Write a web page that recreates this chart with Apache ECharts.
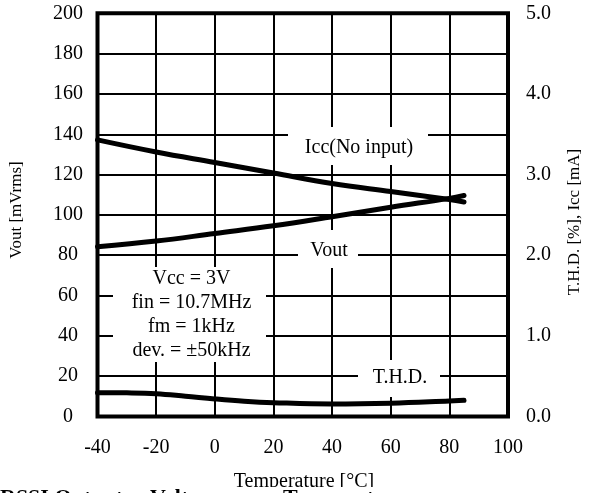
<!DOCTYPE html>
<html>
<head>
<meta charset="utf-8">
<script src="https://cdn.jsdelivr.net/npm/echarts@6/dist/echarts.min.js"></script>
<style>
html,body{margin:0;padding:0;background:#fff;}
#chart{width:591px;height:493px;}
</style>
</head>
<body>
<div id="chart"></div>
<script>
// Data
const tempsMain = [-40, -20, 0, 20, 40, 60, 80, 85];
const voutMv = [84.2, 87.0, 90.8, 94.6, 99.1, 103.8, 108.2, 109.6];
const iccMa = [3.43, 3.28, 3.15, 3.02, 2.89, 2.79, 2.69, 2.66];
const tempsThd = [-40, -30, -20, -10, 0, 10, 20, 40, 60, 80, 85];
const thdPct = [0.295, 0.293, 0.283, 0.252, 0.218, 0.19, 0.172, 0.155, 0.165, 0.192, 0.2];
const xTicks = [-40, -20, 0, 20, 40, 60, 80, 100];
const leftTicks = [0, 20, 40, 60, 80, 100, 120, 140, 160, 180, 200];
const rightTicks = ['0.0', '1.0', '2.0', '3.0', '4.0', '5.0'];
const paramLines = ['Vcc = 3V', 'fin = 10.7MHz', 'fm = 1kHz', 'dev. = \u00B150kHz'];

const FONT = '"Liberation Serif", "Times New Roman", serif';
const zip = (xs, ys) => xs.map((x, i) => [x, ys[i]]);

const chart = echarts.init(document.getElementById('chart'), null, {renderer: 'canvas'});

const lineStyle = {color: '#000', width: 5, cap: 'round', join: 'round'};

function box(x, y, w, h) {
  return {type: 'rect', z: 20, shape: {x: x, y: y, width: w, height: h}, style: {fill: '#fff'}, silent: true};
}
function txt(s, x, y, size, rot, weight, vAlign, hAlign) {
  return {type: 'text', z: 31, silent: true, x: x, y: y, rotation: rot || 0,
    style: {text: s, x: 0, y: 0, font: (weight ? weight + ' ' : '') + size + 'px ' + FONT, fill: '#000',
      textAlign: hAlign || 'center', textVerticalAlign: vAlign || 'middle'}};
}

const graphics = [
  box(288, 127, 140, 38), txt('Icc(No input)', 359, 147.5, 20),
  box(298, 230, 60, 38), txt('Vout', 329, 251, 20),
  box(113, 267, 153, 95),
  box(358, 360, 82, 37), txt('T.H.D.', 400, 378, 20),
  txt('Vout [mVrms]', 17, 210, 17, Math.PI / 2),
  txt('T.H.D. [%], Icc [mA]', 575, 222, 17, Math.PI / 2),
  txt('Temperature [\u00B0C]', 304, 482, 20),
  {type: 'rect', z: 40, shape: {x: 0, y: 487, width: 591, height: 6}, style: {fill: '#fff'}, silent: true},
  Object.assign(txt('RSSI Output', 0, 487, 22, 0, 'bold', 'top', 'left'), {z: 41}),
  Object.assign(txt('Voltage vs.', 150, 487, 22, 0, 'bold', 'top', 'left'), {z: 41}),
  Object.assign(txt('Temperature', 283, 487, 22, 0, 'bold', 'top', 'left'), {z: 41})
];
paramLines.forEach((s, i) => graphics.push(txt(s, 191.5, 279 + i * 24, 20)));

const option = {
  animation: false,
  backgroundColor: '#fff',
  grid: {left: 97.5, right: 83, top: 13.3, bottom: 76.5, show: true, borderColor: '#000', borderWidth: 4, backgroundColor: 'transparent'},
  xAxis: {
    type: 'value', min: xTicks[0], max: xTicks[xTicks.length - 1], interval: 20,
    axisLine: {show: false}, axisTick: {show: false},
    splitLine: {show: true, lineStyle: {color: '#000', width: 2}},
    axisLabel: {color: '#000', fontFamily: FONT, fontSize: 20, margin: 21,
      formatter: v => xTicks.includes(v) ? String(v) : ''}
  },
  yAxis: [
    {
      type: 'value', min: leftTicks[0], max: leftTicks[leftTicks.length - 1], interval: 20, position: 'left',
      axisLine: {show: false}, axisTick: {show: false},
      splitLine: {show: true, lineStyle: {color: '#000', width: 2}},
      axisLabel: {color: '#000', fontFamily: FONT, fontSize: 20, margin: 29.5, align: 'center',
        formatter: v => String(v)}
    },
    {
      type: 'value', min: 0, max: 5, interval: 1, position: 'right',
      axisLine: {show: false}, axisTick: {show: false}, splitLine: {show: false},
      axisLabel: {color: '#000', fontFamily: FONT, fontSize: 20, margin: 18, align: 'left',
        formatter: v => rightTicks[Math.round(v)]}
    }
  ],
  graphic: graphics,
  series: [
    {name: 'Vout', type: 'line', yAxisIndex: 0, data: zip(tempsMain, voutMv), smooth: 0.4, symbol: 'none', lineStyle: lineStyle, z: 10},
    {name: 'Icc', type: 'line', yAxisIndex: 1, data: zip(tempsMain, iccMa), smooth: 0.4, symbol: 'none', lineStyle: lineStyle, z: 10},
    {name: 'T.H.D.', type: 'line', yAxisIndex: 1, data: zip(tempsThd, thdPct), smooth: 0.4, symbol: 'none', lineStyle: lineStyle, z: 10}
  ]
};
chart.setOption(option);
</script>
</body>
</html>
